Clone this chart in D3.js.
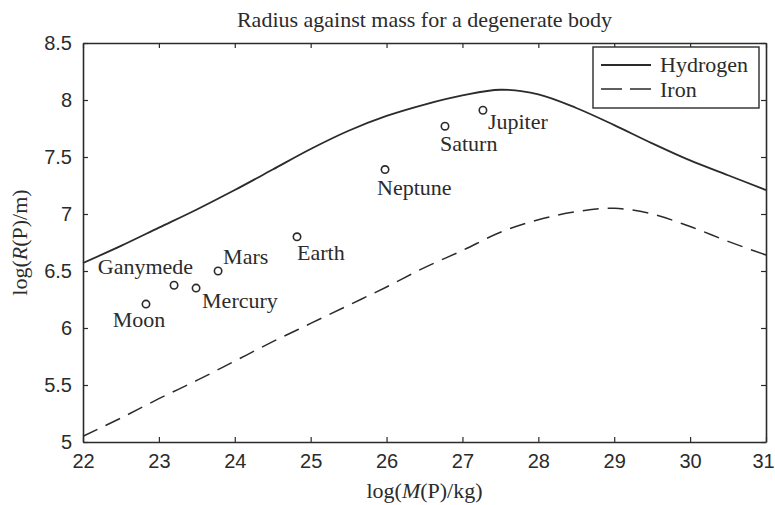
<!DOCTYPE html>
<html>
<head>
<meta charset="utf-8">
<script src="https://cdn.jsdelivr.net/npm/d3@7"></script>
<style>
  body { margin: 0; background: #fff; }
  svg { font-family: "Liberation Serif", "DejaVu Serif", serif; fill: #2b2b2b; }
</style>
</head>
<body>
<script>
// log10 of mass (kg) for the model curves
const massGrid = [22, 22.5, 23, 23.5, 24, 24.5, 25, 25.5, 26, 26.5, 27, 27.5, 28, 28.5, 29, 29.5, 30, 30.5, 31];
// log10 of radius (m)
const hydrogenR = [6.57, 6.72, 6.88, 7.04, 7.21, 7.39, 7.57, 7.73, 7.86, 7.96, 8.04, 8.09, 8.05, 7.93, 7.78, 7.62, 7.47, 7.34, 7.21];
const ironR     = [5.05, 5.21, 5.38, 5.54, 5.71, 5.88, 6.04, 6.20, 6.36, 6.53, 6.68, 6.84, 6.95, 7.02, 7.05, 7.00, 6.89, 6.76, 6.64];

const bodies  = ['Moon', 'Ganymede', 'Mercury', 'Mars', 'Earth', 'Neptune', 'Saturn', 'Jupiter'];
const bodyM   = [22.83, 23.20, 23.49, 23.78, 24.82, 25.98, 26.77, 27.27];
const bodyR   = [6.21, 6.375, 6.35, 6.50, 6.80, 7.39, 7.77, 7.91];

const xTicks = [22, 23, 24, 25, 26, 27, 28, 29, 30, 31];
const yTicks = [5, 5.5, 6, 6.5, 7, 7.5, 8, 8.5];

const width = 775, height = 505;
const margin = {top: 43, right: 9, bottom: 63, left: 83};

// where each name sits relative to its marker
const labelPos = {
  Moon:     {dx: -7,  dy: 23, anchor: 'middle'},
  Ganymede: {dx: 19,  dy: -11, anchor: 'end'},
  Mercury:  {dx: 6,   dy: 20, anchor: 'start'},
  Mars:     {dx: 5,   dy: -7, anchor: 'start'},
  Earth:    {dx: 0,   dy: 23, anchor: 'start'},
  Neptune:  {dx: -8,  dy: 25, anchor: 'start'},
  Saturn:   {dx: -5,  dy: 25, anchor: 'start'},
  Jupiter:  {dx: 5,   dy: 19, anchor: 'start'}
};

const svg = d3.select('body').append('svg')
    .attr('width', width)
    .attr('height', height);

const x = d3.scaleLinear().domain([22, 31]).range([margin.left, width - margin.right]);
const y = d3.scaleLinear().domain([5, 8.5]).range([height - margin.bottom, margin.top]);

const ink = '#2b2b2b';

// axes: ticks point inward on all four sides
const fmt = d => String(d);
svg.append('g')
    .attr('transform', `translate(0,${y(5)})`)
    .call(d3.axisBottom(x).tickValues(xTicks).tickFormat(fmt).tickSizeInner(-5).tickSizeOuter(0).tickPadding(12))
    .call(g => g.selectAll('text').attr('font-size', 20).attr('fill', ink).attr('font-family', null)
        .attr('dx', d => d === 31 ? -3 : 0));
svg.append('g')
    .attr('transform', `translate(0,${y(8.5)})`)
    .call(d3.axisTop(x).tickValues(xTicks).tickFormat('').tickSizeInner(-5).tickSizeOuter(0));
svg.append('g')
    .attr('transform', `translate(${x(22)},0)`)
    .call(d3.axisLeft(y).tickValues(yTicks).tickFormat(fmt).tickSizeInner(-5).tickSizeOuter(0).tickPadding(11))
    .call(g => g.selectAll('text').attr('font-size', 20).attr('fill', ink).attr('font-family', null));
svg.append('g')
    .attr('transform', `translate(${x(31)},0)`)
    .call(d3.axisRight(y).tickValues(yTicks).tickFormat('').tickSizeInner(-5).tickSizeOuter(0));

svg.selectAll('.domain').attr('stroke', ink).attr('stroke-width', 1.6);
svg.selectAll('.tick line').attr('stroke', ink).attr('stroke-width', 1.2);

// model curves
const line = d3.line().x(d => x(d[0])).y(d => y(d[1])).curve(d3.curveCatmullRom.alpha(0.5));

svg.append('path')
    .datum(d3.zip(massGrid, hydrogenR))
    .attr('fill', 'none')
    .attr('stroke', ink)
    .attr('stroke-width', 1.8)
    .attr('d', line);

svg.append('path')
    .datum(d3.zip(massGrid, ironR))
    .attr('fill', 'none')
    .attr('stroke', ink)
    .attr('stroke-width', 1.5)
    .attr('stroke-dasharray', '16,9')
    .attr('d', line);

// bodies
const pts = svg.append('g');
pts.selectAll('circle')
    .data(bodies)
    .join('circle')
    .attr('cx', (d, i) => x(bodyM[i]))
    .attr('cy', (d, i) => y(bodyR[i]))
    .attr('r', 3.7)
    .attr('fill', '#fff')
    .attr('stroke', ink)
    .attr('stroke-width', 1.6);

pts.selectAll('text')
    .data(bodies)
    .join('text')
    .attr('x', (d, i) => x(bodyM[i]) + labelPos[d].dx)
    .attr('y', (d, i) => y(bodyR[i]) + labelPos[d].dy)
    .attr('text-anchor', d => labelPos[d].anchor)
    .attr('font-size', 22)
    .text(d => d);

// legend
const lg = svg.append('g');
lg.append('rect')
    .attr('x', 593).attr('y', 47)
    .attr('width', 166).attr('height', 61)
    .attr('fill', '#fff')
    .attr('stroke', ink)
    .attr('stroke-width', 1.4);
lg.append('line')
    .attr('x1', 601).attr('x2', 651).attr('y1', 65).attr('y2', 65)
    .attr('stroke', ink).attr('stroke-width', 1.8);
lg.append('line')
    .attr('x1', 601).attr('x2', 651).attr('y1', 89).attr('y2', 89)
    .attr('stroke', ink).attr('stroke-width', 1.5)
    .attr('stroke-dasharray', '21,8');
lg.append('text').attr('x', 660).attr('y', 72).attr('font-size', 22).text('Hydrogen');
lg.append('text').attr('x', 660).attr('y', 97).attr('font-size', 22).text('Iron');

// titles
svg.append('text')
    .attr('x', (x(22) + x(31)) / 2)
    .attr('y', 27)
    .attr('text-anchor', 'middle')
    .attr('font-size', 22)
    .text('Radius against mass for a degenerate body');

const xl = svg.append('text')
    .attr('x', (x(22) + x(31)) / 2)
    .attr('y', 498)
    .attr('text-anchor', 'middle')
    .attr('font-size', 22);
xl.append('tspan').text('log(');
xl.append('tspan').attr('font-style', 'italic').text('M');
xl.append('tspan').text('(P)/kg)');

const yl = svg.append('text')
    .attr('transform', `translate(27,${(y(5) + y(8.5)) / 2}) rotate(-90)`)
    .attr('text-anchor', 'middle')
    .attr('font-size', 22);
yl.append('tspan').text('log(');
yl.append('tspan').attr('font-style', 'italic').text('R');
yl.append('tspan').text('(P)/m)');
</script>
</body>
</html>
